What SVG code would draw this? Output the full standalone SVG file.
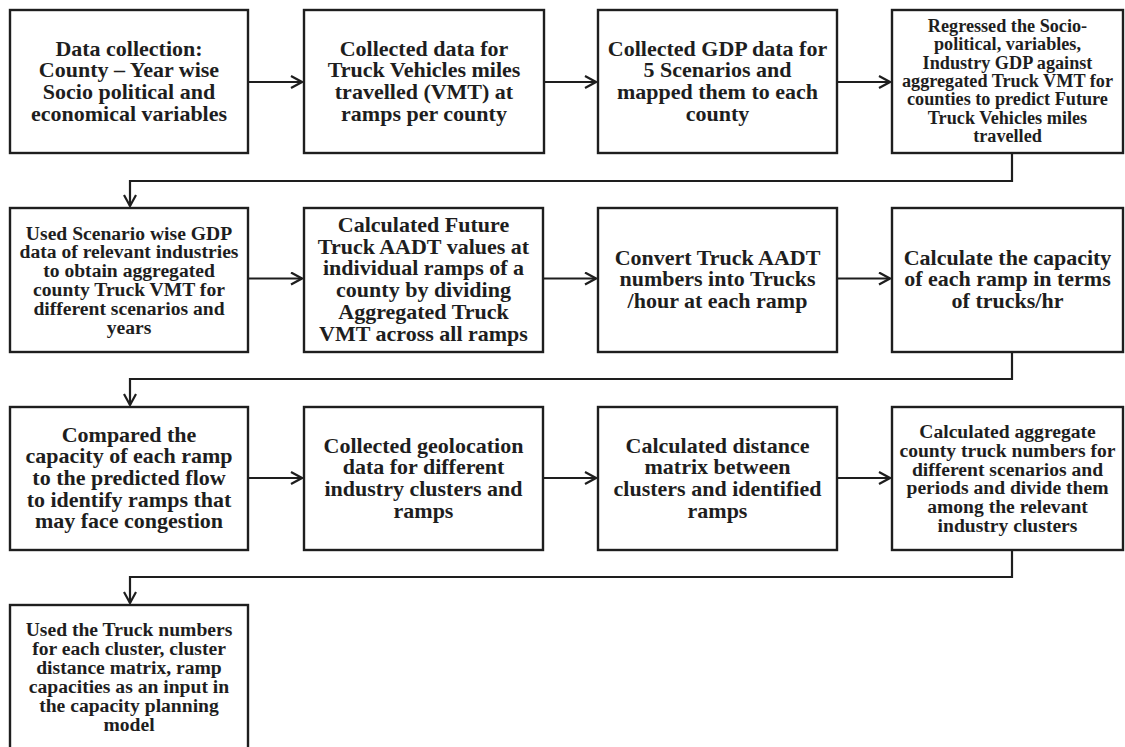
<svg xmlns="http://www.w3.org/2000/svg" width="1125" height="747" viewBox="0 0 1125 747">
<style>
.box{fill:#fff;stroke:#1e1e1e;stroke-width:2.4}
.t{font-family:"Liberation Serif","Times New Roman",serif;font-weight:bold;fill:#1e1e1e;text-anchor:middle;font-size:22px}
.s{font-size:19.6px}
.xs{font-size:18.2px}
.c{fill:none;stroke:#1e1e1e;stroke-width:2.2}
</style>
<defs>
<marker id="ah" markerUnits="userSpaceOnUse" markerWidth="14" markerHeight="16" refX="12" refY="7" orient="auto">
<path d="M1,1 L12,7 L1,13" fill="none" stroke="#1e1e1e" stroke-width="2.2"/>
</marker>
</defs>
<rect width="1125" height="747" fill="#fff"/>
<g id="connectors">
<path class="c" d="M248,82 H302" marker-end="url(#ah)"/>
<path class="c" d="M544,82 H596" marker-end="url(#ah)"/>
<path class="c" d="M837,82 H890" marker-end="url(#ah)"/>
<path class="c" d="M1012,153 V181 H130 V206" marker-end="url(#ah)"/>
<path class="c" d="M248,278.5 H302" marker-end="url(#ah)"/>
<path class="c" d="M543,278.5 H596" marker-end="url(#ah)"/>
<path class="c" d="M837,278.5 H890" marker-end="url(#ah)"/>
<path class="c" d="M1012,352 V379 H130 V405" marker-end="url(#ah)"/>
<path class="c" d="M248,478 H302" marker-end="url(#ah)"/>
<path class="c" d="M543,478 H596" marker-end="url(#ah)"/>
<path class="c" d="M837,478 H890" marker-end="url(#ah)"/>
<path class="c" d="M1012,550 V577 H130 V603" marker-end="url(#ah)"/>
</g>
<g id="n1">
<rect class="box" x="10" y="10" width="238" height="143"/>
<text class="t"><tspan x="129" y="55.5">Data collection:</tspan><tspan x="129" y="77.2">County – Year wise</tspan><tspan x="129" y="98.9">Socio political and</tspan><tspan x="129" y="120.6">economical variables</tspan></text>
</g>
<g id="n2">
<rect class="box" x="304" y="10" width="240" height="143"/>
<text class="t"><tspan x="424" y="55.5">Collected data for</tspan><tspan x="424" y="77.2">Truck Vehicles miles</tspan><tspan x="424" y="98.9">travelled (VMT) at</tspan><tspan x="424" y="120.6">ramps per county</tspan></text>
</g>
<g id="n3">
<rect class="box" x="598" y="10" width="239" height="143"/>
<text class="t"><tspan x="717.5" y="55.5">Collected GDP data for</tspan><tspan x="717.5" y="77.2">5 Scenarios and</tspan><tspan x="717.5" y="98.9">mapped them to each</tspan><tspan x="717.5" y="120.6">county</tspan></text>
</g>
<g id="n4">
<rect class="box" x="892" y="10" width="231" height="143"/>
<text class="t xs"><tspan x="1007.5" y="32">Regressed the Socio-</tspan><tspan x="1007.5" y="50.3">political, variables,</tspan><tspan x="1007.5" y="68.6">Industry GDP against</tspan><tspan x="1007.5" y="86.9">aggregated Truck VMT for</tspan><tspan x="1007.5" y="105.2">counties to predict Future</tspan><tspan x="1007.5" y="123.5">Truck Vehicles miles</tspan><tspan x="1007.5" y="141.8">travelled</tspan></text>
</g>
<g id="n5">
<rect class="box" x="10" y="208" width="238" height="144"/>
<text class="t s"><tspan x="129" y="239.5">Used Scenario wise GDP</tspan><tspan x="129" y="258.3">data of relevant industries</tspan><tspan x="129" y="277.1">to obtain aggregated</tspan><tspan x="129" y="295.9">county Truck VMT for</tspan><tspan x="129" y="314.7">different scenarios and</tspan><tspan x="129" y="333.5">years</tspan></text>
</g>
<g id="n6">
<rect class="box" x="304" y="208" width="239" height="144"/>
<text class="t"><tspan x="423.5" y="232">Calculated Future</tspan><tspan x="423.5" y="253.7">Truck AADT values at</tspan><tspan x="423.5" y="275.4">individual ramps of a</tspan><tspan x="423.5" y="297.1">county by dividing</tspan><tspan x="423.5" y="318.8">Aggregated Truck</tspan><tspan x="423.5" y="340.5">VMT across all ramps</tspan></text>
</g>
<g id="n7">
<rect class="box" x="598" y="208" width="239" height="144"/>
<text class="t"><tspan x="717.5" y="264.5">Convert Truck AADT</tspan><tspan x="717.5" y="286.2">numbers into Trucks</tspan><tspan x="717.5" y="307.9">/hour at each ramp</tspan></text>
</g>
<g id="n8">
<rect class="box" x="892" y="208" width="231" height="144"/>
<text class="t"><tspan x="1007.5" y="264.5">Calculate the capacity</tspan><tspan x="1007.5" y="286.2">of each ramp in terms</tspan><tspan x="1007.5" y="307.9">of trucks/hr</tspan></text>
</g>
<g id="n9">
<rect class="box" x="10" y="407" width="238" height="143"/>
<text class="t"><tspan x="129" y="441.5">Compared the</tspan><tspan x="129" y="463.2">capacity of each ramp</tspan><tspan x="129" y="484.9">to the predicted flow</tspan><tspan x="129" y="506.6">to identify ramps that</tspan><tspan x="129" y="528.3">may face congestion</tspan></text>
</g>
<g id="n10">
<rect class="box" x="304" y="407" width="239" height="143"/>
<text class="t"><tspan x="423.5" y="452.5">Collected geolocation</tspan><tspan x="423.5" y="474.2">data for different</tspan><tspan x="423.5" y="495.9">industry clusters and</tspan><tspan x="423.5" y="517.6">ramps</tspan></text>
</g>
<g id="n11">
<rect class="box" x="598" y="407" width="239" height="143"/>
<text class="t"><tspan x="717.5" y="452.5">Calculated distance</tspan><tspan x="717.5" y="474.2">matrix between</tspan><tspan x="717.5" y="495.9">clusters and identified</tspan><tspan x="717.5" y="517.6">ramps</tspan></text>
</g>
<g id="n12">
<rect class="box" x="892" y="407" width="231" height="143"/>
<text class="t s"><tspan x="1007.5" y="438">Calculated aggregate</tspan><tspan x="1007.5" y="456.8">county truck numbers for</tspan><tspan x="1007.5" y="475.6">different scenarios and</tspan><tspan x="1007.5" y="494.4">periods and divide them</tspan><tspan x="1007.5" y="513.2">among the relevant</tspan><tspan x="1007.5" y="532">industry clusters</tspan></text>
</g>
<g id="n13">
<rect class="box" x="10" y="605" width="238" height="160"/>
<text class="t s"><tspan x="129" y="636">Used the Truck numbers</tspan><tspan x="129" y="654.9">for each cluster, cluster</tspan><tspan x="129" y="673.8">distance matrix, ramp</tspan><tspan x="129" y="692.7">capacities as an input in</tspan><tspan x="129" y="711.6">the capacity planning</tspan><tspan x="129" y="730.5">model</tspan></text>
</g>
</svg>
